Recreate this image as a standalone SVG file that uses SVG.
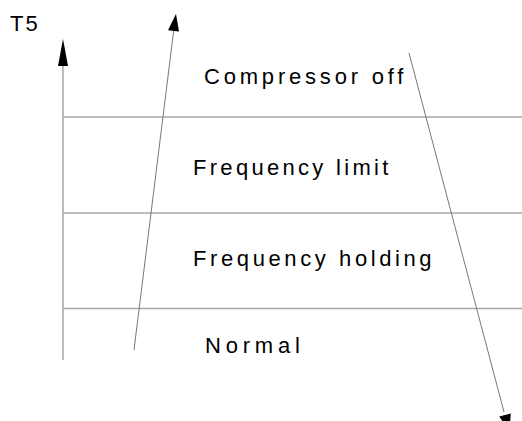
<svg xmlns="http://www.w3.org/2000/svg" width="522" height="421" viewBox="0 0 522 421">
<style>
.band{stroke:#a6a6a6;stroke-width:1.5;fill:none}
.arr{stroke:#777;stroke-width:1;fill:none}
.head{fill:#000}
text{font-family:"Liberation Sans",Arial,sans-serif;font-size:22px;fill:#000}
</style>
<rect width="522" height="421" fill="#fff"/>
<g id="connectors">
<line class="band" x1="63" y1="60" x2="63" y2="360"/>
<polygon class="head" points="63,39 68,66 58,66"/>
<line class="band" x1="63" y1="117" x2="522" y2="117"/>
<line class="band" x1="63" y1="213" x2="522" y2="213"/>
<line class="band" x1="63" y1="308.5" x2="522" y2="308.5"/>
<line class="arr" x1="134" y1="350" x2="174" y2="28"/>
<polygon class="head" points="176,14 179,31.6 168,30.2"/>
<line class="arr" x1="409" y1="53" x2="504" y2="412"/>
<polygon class="head" points="509.4,431.4 510.8,413.5 499.2,416.5"/>
</g>
<g id="axis-label"><text x="10" y="31" letter-spacing="2">T5</text></g>
<g id="compressor-off"><text x="204" y="84" letter-spacing="3.8">Compressor off</text></g>
<g id="frequency-limit"><text x="193" y="175" letter-spacing="3.3">Frequency limit</text></g>
<g id="frequency-holding"><text x="193" y="266" letter-spacing="3.6">Frequency holding</text></g>
<g id="normal"><text x="205" y="353" letter-spacing="4.8">Normal</text></g>
</svg>
